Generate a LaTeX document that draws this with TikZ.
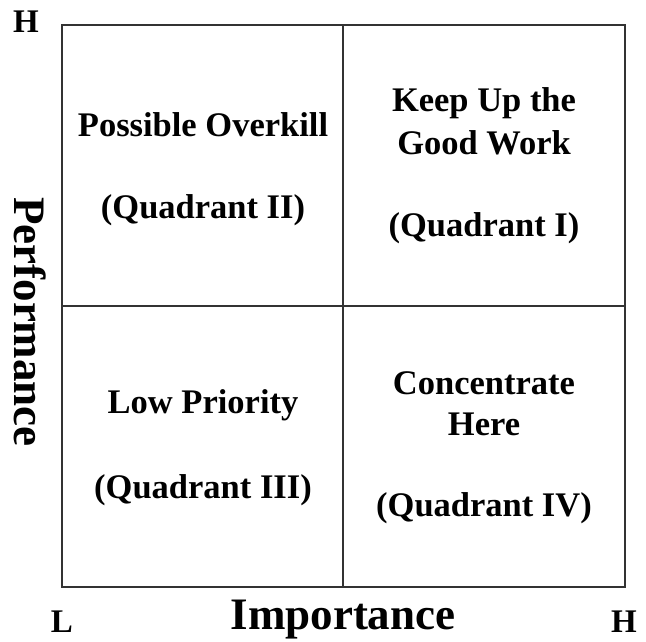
\documentclass[tikz,border=0pt]{standalone}
\usepackage{fontspec}
\setmainfont{Liberation Serif}
\begin{document}
\begin{tikzpicture}[x=1pt,y=-1pt,
  grid/.style={draw=black!80,line width=2.8pt},
  qtext/.style={font=\bfseries\fontsize{34.5}{40}\selectfont,align=center,inner sep=0pt},
  corner/.style={font=\bfseries\fontsize{33}{38}\selectfont,inner sep=0pt},
  axis/.style={font=\bfseries\fontsize{45}{52}\selectfont,inner sep=0pt}]
\useasboundingbox (0,0) rectangle (646,642);
\coordinate (tl) at (62,25);
\coordinate (br) at (625,587);
\coordinate (mt) at (343,25);
\coordinate (mb) at (343,587);
\coordinate (ml) at (62,306);
\coordinate (mr) at (625,306);
\draw[grid] (tl) rectangle (br);
\draw[grid] (mt) -- (mb);
\draw[grid] (ml) -- (mr);
\node[qtext] (q2a) at (203,125) {Possible Overkill};
\node[qtext] (q2b) at (203,210) {(Quadrant II)};
\node[qtext] (q1a) at (484,103) {Keep Up the};
\node[qtext] (q1b) at (484,143) {Good Work};
\node[qtext] (q1c) at (484,228) {(Quadrant I)};
\node[qtext] (q3a) at (203,405) {Low Priority};
\node[qtext] (q3b) at (203,490) {(Quadrant III)};
\node[qtext] (q4a) at (484,383) {Concentrate};
\node[qtext] (q4b) at (484,424) {Here};
\node[qtext] (q4c) at (484,508) {(Quadrant IV)};
\node[corner] (htop) at (26,22) {H};
\node[corner] (lbot) at (62,622) {L};
\node[corner] (hbot) at (624,622) {H};
\node[axis] (imp) at (343,620) {Importance};
\node[axis,rotate=-90] (perf) at (30,322) {Performance};
\end{tikzpicture}
\end{document}
